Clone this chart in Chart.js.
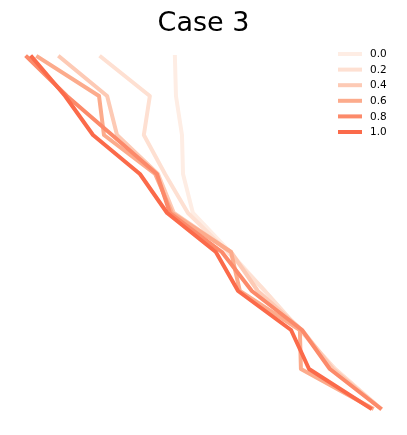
<!DOCTYPE html>
<html>
<head>
<meta charset="utf-8">
<script src="https://cdn.jsdelivr.net/npm/chart.js@4.4.0/dist/chart.umd.min.js"></script>
<style>
  html, body { margin: 0; padding: 0; background: #fff; }
  #wrap { width: 407px; height: 435px; }
</style>
</head>
<body>
<div id="wrap"><canvas id="caseChart" width="407" height="435"></canvas></div>
<script>
// step index, top (9) to bottom (0)
const steps = [9, 8, 7, 6, 5, 4, 3, 2, 1, 0];

// horizontal position of each path
const path00 = [4.19, 4.22, 4.39, 4.42, 4.70, 5.75, 6.74, 7.73, 8.73, 10.00];
const path02 = [2.10, 3.48, 3.31, 3.91, 4.56, 5.69, 6.74, 7.73, 8.73, 10.00];
const path04 = [0.93, 2.27, 2.55, 3.71, 4.16, 5.78, 6.54, 7.79, 8.67, 10.00];
const path06 = [0.31, 2.04, 2.18, 3.63, 4.11, 5.78, 6.03, 7.73, 7.76, 9.77];
const path08 = [0.00, 1.13, 2.41, 3.68, 4.05, 5.52, 6.37, 7.79, 8.58, 10.00];
const path10 = [0.14, 1.08, 1.87, 3.20, 3.97, 5.35, 5.98, 7.48, 7.99, 9.72];

const seriesLabels = ['0.0', '0.2', '0.4', '0.6', '0.8', '1.0'];
const seriesValues = [path00, path02, path04, path06, path08, path10];
const seriesColors = ['#feede4', '#fee0d2', '#fdcab5', '#fcab8c', '#fc8a6a', '#fb6a4a'];

// title + legend drawn like matplotlib (title above axes, legend top right, no frame)
const caseDecor = {
  id: 'caseDecor',
  afterDraw(chart) {
    const ctx = chart.ctx;
    const area = chart.chartArea;
    ctx.save();
    ctx.fillStyle = '#000';
    ctx.font = '27px "DejaVu Sans", sans-serif';
    ctx.textAlign = 'center';
    ctx.textBaseline = 'alphabetic';
    ctx.fillText('Case 3', (area.left + area.right) / 2, 31);

    ctx.font = '10.5px "DejaVu Sans", sans-serif';
    ctx.textAlign = 'left';
    ctx.textBaseline = 'middle';
    chart.data.datasets.forEach((ds, i) => {
      const y = 54 + i * 15.6;
      ctx.strokeStyle = ds.borderColor;
      ctx.lineWidth = 4;
      ctx.lineCap = 'butt';
      ctx.beginPath();
      ctx.moveTo(338, y);
      ctx.lineTo(362, y);
      ctx.stroke();
      ctx.fillStyle = '#000';
      ctx.fillText(ds.label, 370, y + 0.5);
    });
    ctx.restore();
  }
};

document.addEventListener('DOMContentLoaded', function () {
  const ctx = document.getElementById('caseChart').getContext('2d');

  const datasets = seriesValues.map((vals, i) => ({
    label: seriesLabels[i],
    data: vals.map((v, k) => ({ x: v, y: steps[k] })),
    borderColor: seriesColors[i],
    backgroundColor: seriesColors[i],
    borderWidth: 4,
    borderCapStyle: 'square',
    borderJoinStyle: 'round',
    pointRadius: 0,
    fill: false,
    tension: 0,
    order: seriesLabels.length - i // 1.0 on top
  }));

  new Chart(ctx, {
    type: 'scatter',
    data: { datasets: datasets },
    plugins: [caseDecor],
    options: {
      responsive: false,
      animation: false,
      showLine: true,
      layout: { padding: { left: 9.35, right: 9.35, top: 37.5, bottom: 7.5 } },
      plugins: {
        legend: { display: false },
        title: { display: false },
        tooltip: { enabled: false }
      },
      scales: {
        x: { type: 'linear', display: false, min: -0.5, max: 10.5 },
        y: { type: 'linear', display: false, min: -0.5, max: 9.5 }
      }
    }
  });
});
</script>
</body>
</html>
